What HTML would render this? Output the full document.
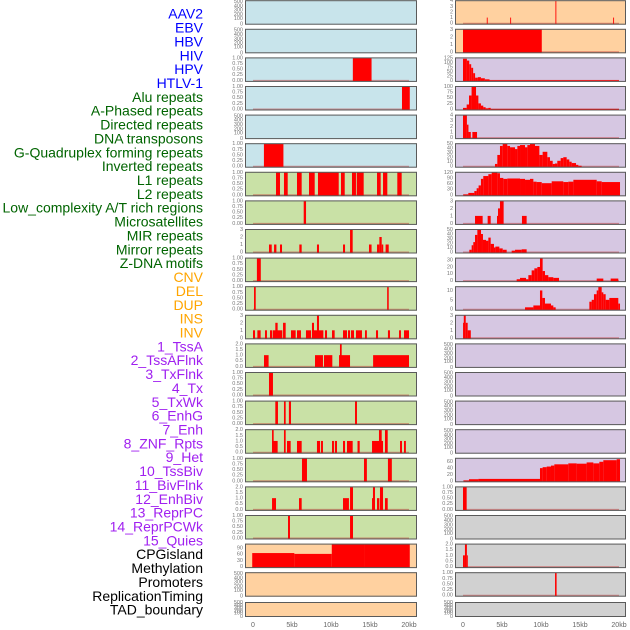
<!DOCTYPE html>
<html><head><meta charset="utf-8"><style>
html,body{margin:0;padding:0;background:#fff;width:630px;height:630px;overflow:hidden}
svg{display:block;font-family:"Liberation Sans",sans-serif}
</style></head><body>
<svg id="chart" width="630" height="630" viewBox="0 0 630 630" xmlns="http://www.w3.org/2000/svg"></svg>
<script>
// ---- labels ----
const labelNames = ["AAV2","EBV","HBV","HIV","HPV","HTLV-1","Alu repeats","A-Phased repeats","Directed repeats","DNA transposons","G-Quadruplex forming repeats","Inverted repeats","L1 repeats","L2 repeats","Low_complexity A/T rich regions","Microsatellites","MIR repeats","Mirror repeats","Z-DNA motifs","CNV","DEL","DUP","INS","INV","1_TssA","2_TssAFlnk","3_TxFlnk","4_Tx","5_TxWk","6_EnhG","7_Enh","8_ZNF_Rpts","9_Het","10_TssBiv","11_BivFlnk","12_EnhBiv","13_ReprPC","14_ReprPCWk","15_Quies","CPGisland","Methylation","Promoters","ReplicationTiming","TAD_boundary"];
const labelGroups = [6,13,5,15,5];
const groupColors = ["#0000ff","#006400","#ffa500","#a020f0","#000000"];
const xTicks = [0,5,10,15,20];
const xTickLabels = ["0","5kb","10kb","15kb","20kb"];

// ---- left column data: [startKb, endKb, value] ----
const L2 = [[12.8,15.2,1]];
const L3 = [[19.1,20.1,1]];
const L5 = [[1.4,3.9,1]];
const L6 = [[2.95,3.46,1],[3.97,4.45,1],[5.64,6.24,1],[7.18,7.91,1],[8.33,10.99,1],[11.28,11.76,1],[12.69,13.2,1],[13.3,14.19,1],[15.9,16.37,1],[16.67,17.22,1],[18.5,19.06,1]];
const L7 = [[6.5,6.8,1]];
const L8 = [[2.05,2.4,1],[2.7,3.0,1],[3.46,3.72,1],[5.94,6.24,1],[8.2,8.46,1],[11.54,11.8,1],[12.44,12.78,3],[14.87,15.2,1],[15.9,16.2,1],[16.2,16.5,2],[16.5,16.7,1],[17.0,17.4,1]];
const L9 = [[0.5,1.0,1]];
const L10 = [[0.13,0.35,1],[17.2,17.4,1]];
const L11 = [[0,0.26,1],[0.56,0.98,1],[1.54,1.79,1],[2.18,2.48,1],[2.56,3.76,1],[2.86,3.16,2],[3.85,4.19,2],[4.87,5.47,1],[5.64,6.15,1],[6.79,7.44,1],[7.56,9.02,1],[7.56,7.82,2],[8.2,8.46,3],[9.23,9.49,1],[10.13,10.47,1],[11.54,12.05,1],[12.18,12.44,1],[12.56,12.95,1],[13.2,13.97,1],[14.36,14.6,1],[15.77,16.03,1],[17.3,17.56,1],[18.72,18.97,1],[19.36,20,1]];
const L12 = [[1.41,2.0,1],[7.95,8.97,1],[9.1,10.17,1],[11.03,12.44,1],[11.15,11.37,2],[15.4,20.0,1]];
const L13 = [[2.05,2.56,1]];
const L14 = [[2.86,3.2,1],[3.97,4.19,1],[4.6,4.87,1],[13.08,13.33,1]];
const L15 = [[2.44,3.16,1],[2.44,2.65,2],[3.97,4.19,2],[4.36,4.83,1],[5.64,6.24,1],[8.2,8.6,1],[8.72,8.97,1],[10.13,10.38,1],[10.5,10.77,1],[11.54,11.8,1],[12.05,12.78,1],[13.4,13.68,1],[15.26,16.67,1],[16.15,16.5,2],[16.92,17.27,2],[18.85,19.1,1],[19.36,19.6,1]];
const L16 = [[6.28,6.92,1],[14.23,14.6,1],[17.3,17.8,1]];
const L17 = [[2.44,2.95,1],[5.9,6.24,1],[11.54,12.3,1],[12.44,12.82,2],[15.26,15.64,1],[15.38,15.64,2],[15.9,16.2,1],[16.28,16.67,2],[16.92,17.27,1]];
const L18 = [[4.49,4.74,1],[12.44,12.82,1]];
const L19 = [[-0.1,5.3,65],[5.3,10.1,61],[10.1,14.3,108],[14.3,20.1,107]];

// ---- right column data ----
const R0 = [[3.05,3.15,1],[6.05,6.15,1],[11.85,11.95,4],[19.25,19.35,1]];
const R1 = [[0,10.1,3]];
const R2 = [[0,0.5,120],[0.5,0.8,110],[0.8,1.05,90],[1.05,1.3,70],[1.3,1.55,40],[1.55,1.9,15],[1.9,2.3,18],[2.3,2.8,12],[2.8,3.4,6],[3.4,20,1]];
const R3 = [[0,0.47,5],[0.47,0.77,20],[0.77,1.1,60],[1.1,1.67,100],[1.67,1.97,60],[1.97,2.3,25],[2.3,2.6,15],[2.6,2.9,8],[2.9,3.25,3],[3.25,3.55,5],[3.55,20,0.5]];
const R4 = [[0,0.5,4],[0.5,0.7,2.3],[0.7,1.0,1],[1.2,1.8,1]];
const R5 = [[4.1,4.4,5],[4.4,4.74,25],[4.74,5.09,45],[5.09,5.68,50],[5.68,6.03,45],[6.03,6.67,42],[6.67,6.97,38],[6.97,7.31,45],[7.31,7.95,47],[7.95,8.25,42],[8.25,8.59,47],[8.59,9.23,50],[9.23,9.79,45],[9.79,10.21,25],[10.21,10.81,32],[10.81,11.15,20],[11.15,11.5,12],[11.5,11.79,5],[11.79,12.09,6],[12.09,12.52,12],[12.52,12.86,18],[12.86,13.29,20],[13.29,13.63,15],[13.63,13.93,10],[13.93,14.49,7],[14.49,14.79,3],[14.79,15.21,1]];
const R6 = [[0.04,0.68,2],[0.68,1.45,10],[1.45,1.75,20],[1.75,2.0,35],[2.0,2.3,50],[2.3,2.6,85],[2.6,3.25,100],[3.25,3.68,110],[3.68,4.4,120],[4.4,4.74,115],[4.74,5.17,90],[5.17,5.68,85],[5.68,7.31,87],[7.31,7.95,85],[7.95,8.59,80],[8.59,9.02,85],[9.02,9.44,70],[9.44,10.09,68],[10.09,11.37,62],[11.37,12.86,72],[12.86,13.5,68],[13.5,14.15,70],[14.15,17.14,80],[17.14,17.78,72],[17.78,20.13,68]];
const R7 = [[1.54,2.52,1],[3.16,3.55,1],[4.36,4.66,1],[4.49,4.74,2],[4.74,5.21,3],[7.56,8.16,1]];
const R8 = [[0.81,1.11,5],[1.11,1.32,15],[1.32,1.54,22],[1.54,1.84,38],[1.84,2.31,50],[2.31,2.56,40],[2.56,2.95,27],[2.95,3.25,25],[3.25,3.55,32],[3.55,3.97,18],[3.97,4.15,10],[4.15,4.66,12],[4.66,5.09,8],[5.09,5.6,5],[6.24,6.67,3],[6.67,7.52,5],[7.52,8.16,6]];
const R9 = [[6.88,7.31,2],[7.31,8.08,4],[8.08,8.38,2],[8.38,8.8,8],[8.8,9.15,15],[9.15,9.53,18],[9.53,9.87,20],[9.87,10.21,33],[10.21,10.51,14],[10.51,10.94,8],[10.94,11.58,5],[11.58,12.31,4],[17.14,17.99,3],[18.93,19.91,3]];
const R10 = [[7.95,9.02,1],[9.02,9.87,2],[9.87,10.17,10],[10.17,10.51,6],[10.51,11.28,3],[11.28,11.58,2],[11.58,11.88,1],[16.2,16.5,4],[16.5,16.79,5],[16.79,17.14,8],[17.14,17.35,10],[17.35,17.78,12],[17.78,17.99,9],[17.99,18.29,8],[18.29,18.76,5],[18.76,19.91,6],[19.91,20.13,3]];
const R11 = [[0,0.1,2],[0.1,0.35,3],[0.35,0.6,2],[0.6,1.0,1]];
const R16 = [[0.1,0.77,1],[0.77,1.97,5],[1.97,9.87,6],[9.87,10.21,40],[10.21,10.73,43],[10.73,11.28,45],[11.28,11.71,48],[11.71,13.5,52],[13.5,14.57,55],[14.57,15.85,54],[15.85,16.71,58],[16.71,17.48,55],[17.48,17.99,60],[17.99,19.7,65],[19.7,20.13,68]];
const R17 = [[0,0.47,1]];
const R19 = [[0,0.25,1],[0.25,0.5,2],[0.5,0.6,1]];
const R20 = [[11.8,12.0,1]];

// ---- tick sets ----
const T01 = [[0,"0.00"],[0.25,"0.25"],[0.5,"0.50"],[0.75,"0.75"],[1,"1.00"]];
const T02 = [[0,"0.0"],[0.5,"0.5"],[1,"1.0"],[1.5,"1.5"],[2,"2.0"]];
const T03 = [[0,"0"],[1,"1"],[2,"2"],[3,"3"]];
const T04 = [[0,"0"],[1,"1"],[2,"2"],[3,"3"],[4,"4"]];
const TCPG = [[0,"0"],[30,"30"],[60,"60"],[90,"90"]];
const T125 = [[0,"0"],[25,"25"],[50,"50"],[75,"75"],[100,"100"],[125,"125"]];
const T100 = [[0,"0"],[25,"25"],[50,"50"],[75,"75"],[100,"100"]];
const T50 = [[0,"0"],[10,"10"],[20,"20"],[30,"30"],[40,"40"],[50,"50"]];
const T120 = [[0,"0"],[30,"30"],[60,"60"],[90,"90"],[120,"120"]];
const T30 = [[0,"0"],[10,"10"],[20,"20"],[30,"30"]];
const T10 = [[0,"0"],[5,"5"],[10,"10"]];
const T60 = [[0,"0"],[20,"20"],[40,"40"],[60,"60"]];

const BLUE="#c8e4eb", GREEN="#c9e1a6", PEACH="#ffd1a0", LAV="#d6c7e2", GRAY="#d1d1d1";
// panel list: [col,row,bg,data,ymax,ticks]  (null data = empty)
const panels = [
 [0,0,BLUE,null],[0,1,BLUE,null],[0,2,BLUE,L2,1,T01],[0,3,BLUE,L3,1,T01],[0,4,BLUE,null],[0,5,BLUE,L5,1,T01],
 [0,6,GREEN,L6,1,T01],[0,7,GREEN,L7,1,T01],[0,8,GREEN,L8,3,T03],[0,9,GREEN,L9,1,T01],[0,10,GREEN,L10,1,T01],
 [0,11,GREEN,L11,3,T03],[0,12,GREEN,L12,2,T02],[0,13,GREEN,L13,1,T01],[0,14,GREEN,L14,1,T01],[0,15,GREEN,L15,2,T02],
 [0,16,GREEN,L16,1,T01],[0,17,GREEN,L17,2,T02],[0,18,GREEN,L18,1,T01],[0,19,PEACH,L19,108,TCPG],[0,20,PEACH,null],[0,21,PEACH,null],
 [1,0,PEACH,R0,4,T04],[1,1,PEACH,R1,3,T03],[1,2,LAV,R2,125,T125],[1,3,LAV,R3,100,T100],[1,4,LAV,R4,4,T04],[1,5,LAV,R5,50,T50],
 [1,6,LAV,R6,120,T120],[1,7,LAV,R7,3,T03],[1,8,LAV,R8,50,T50],[1,9,LAV,R9,33,T30],[1,10,LAV,R10,12,T10],[1,11,LAV,R11,3,T03],
 [1,12,LAV,null],[1,13,LAV,null],[1,14,LAV,null],[1,15,LAV,null],[1,16,LAV,R16,71,T60],[1,17,GRAY,R17,1,T01],[1,18,GRAY,null],
 [1,19,GRAY,R19,2,T02],[1,20,GRAY,R20,1,T01],[1,21,GRAY,null]
];

const NS="http://www.w3.org/2000/svg";
const svg=document.getElementById("chart");
function mk(tag,attrs,parent){const e=document.createElementNS(NS,tag);for(const k in attrs)e.setAttribute(k,attrs[k]);(parent||svg).appendChild(e);return e;}
const colX=[245,455], colW=[172,171], x0=[253,463], pxPerKb=7.8;
function xKb(c,kb){return x0[c]+kb*pxPerKb;}
function rowTop(r){return r<21?0.2+r*28.6:602;}
function rowH(r){return r<21?24.5:15;}

// labels
let k=0;
labelGroups.forEach((n,g)=>{for(let i=0;i<n;i++){const t=mk("text",{x:203,y:15+k*13.86,"text-anchor":"end","dominant-baseline":"middle","font-size":"14",fill:groupColors[g]});


t.textContent=labelNames[k];k++;}});

const emptyFr=[0.02,0.25,0.41,0.59,0.77,0.95];
const emptyLab=["0","100","200","300","400","500"];
panels.forEach(p=>{
 const [c,r,bg,data,ymax,ticks]=p;
 const top=rowTop(r),h=rowH(r),bot=top+h,px=colX[c];
 const g=mk("g",{});
 
 
 mk("rect",{x:px,y:top,width:colW[c],height:h,fill:bg},g);
 const yv=v=>bot-1.5-Math.min(v,ymax)/ymax*(h-2);
 if(!data){
  emptyLab.forEach((l,i)=>{const t=mk("text",{x:px-2,y:bot-emptyFr[i]*h,"text-anchor":"end","dominant-baseline":"middle","font-size":"5.5",fill:"#777"},g);
   
   
   t.textContent=l;});
 } else {
  ticks.forEach(([v,l])=>{const t=mk("text",{x:px-2,y:yv(v),"text-anchor":"end","dominant-baseline":"middle","font-size":"5.5",fill:"#777"},g);
   
   
   t.textContent=l;});
  const bl=mk("line",{x1:xKb(c,0),x2:xKb(c,20),y1:bot-1.2,y2:bot-1.2,stroke:"rgba(190,40,40,0.45)","stroke-width":"1.6"},g);
  
  
  data.forEach(([s,e,v])=>{
   const x1=Math.max(px,xKb(c,s)),x2=Math.min(px+colW[c],xKb(c,e));
   const y=Math.max(top,yv(v));
   const b=mk("rect",{x:x1,y:y,width:Math.max(0.9,x2-x1),height:bot-0.5-y,fill:"#ff0000"},g);
   
   
  });
 }
 mk("rect",{x:px+0.5,y:top+0.5,width:colW[c]-1,height:h-1,fill:"none",stroke:"#5a5a5a","stroke-width":"1"},g);
});
// x axes
[0,1].forEach(c=>{xTicks.forEach((v,i)=>{const t=mk("text",{x:xKb(c,v),y:627,"text-anchor":"middle","font-size":"7",fill:"#666"});
 
 
 t.textContent=xTickLabels[i];});});
</script>
</body></html>
